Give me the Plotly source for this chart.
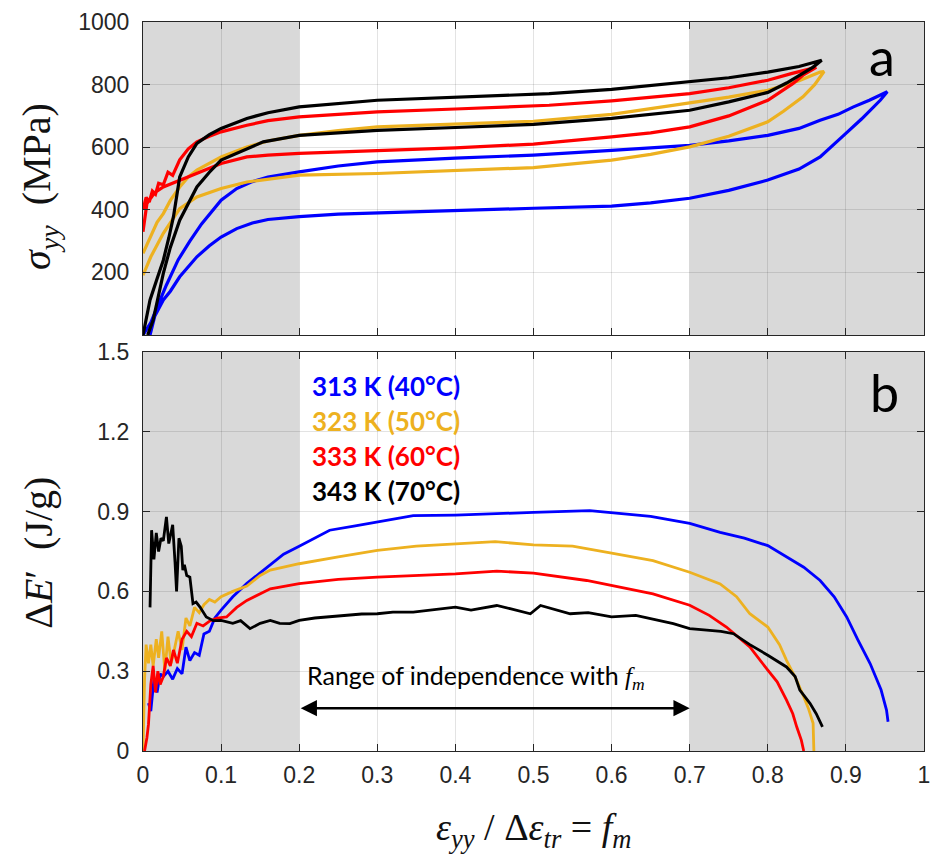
import plotly.graph_objects as go

# ---------------- data: top panel (stress-strain loops) ----------------
x_313_load = [0.0, 0.01, 0.02, 0.03, 0.045, 0.06, 0.075, 0.09, 0.1, 0.12, 0.14, 0.16, 0.18, 0.2, 0.25, 0.3, 0.4, 0.5, 0.6, 0.7, 0.75, 0.8, 0.84, 0.867, 0.89, 0.909, 0.93, 0.945, 0.953]
s_313_load = [0, 40, 100, 160, 240, 300, 355, 400, 431, 468, 490, 505, 514, 521, 540, 553, 565, 575, 590, 606, 620, 638, 660, 686, 705, 728, 750, 768, 777]
x_313_unload = [0.953, 0.944, 0.92, 0.9, 0.88, 0.867, 0.84, 0.8, 0.75, 0.7, 0.65, 0.6, 0.5, 0.4, 0.3, 0.25, 0.2, 0.16, 0.14, 0.12, 0.1, 0.085, 0.069, 0.047, 0.035, 0.026, 0.015, 0.009]
s_313_unload = [777, 750, 690, 644, 600, 569, 530, 495, 462, 437, 422, 412, 405, 398, 392, 386, 378, 369, 358, 340, 313, 285, 250, 186, 140, 112, 60, 0]

x_323_load = [0.0, 0.005, 0.01, 0.018, 0.026, 0.035, 0.047, 0.058, 0.069, 0.085, 0.1, 0.133, 0.16, 0.2, 0.25, 0.3, 0.4, 0.5, 0.6, 0.7, 0.75, 0.8, 0.84, 0.867, 0.872]
s_323_load = [261, 290, 320, 360, 388, 430, 473, 505, 527, 550, 569, 601, 620, 638, 653, 665, 674, 683, 705, 740, 760, 782, 812, 840, 842]
x_323_unload = [0.872, 0.86, 0.845, 0.82, 0.8, 0.75, 0.7, 0.65, 0.6, 0.5, 0.4, 0.3, 0.2, 0.133, 0.1, 0.069, 0.047, 0.026, 0.01, 0.0]
s_323_unload = [842, 800, 761, 715, 681, 635, 601, 577, 559, 535, 525, 516, 511, 489, 468, 441, 404, 325, 250, 191]

x_333_load = [0.0, 0.004, 0.008, 0.012, 0.016, 0.02, 0.026, 0.032, 0.038, 0.047, 0.058, 0.069, 0.085, 0.1, 0.133, 0.16, 0.2, 0.3, 0.4, 0.52, 0.6, 0.7, 0.75, 0.8, 0.83, 0.854, 0.862]
s_333_load = [400, 440, 425, 460, 450, 485, 480, 520, 510, 560, 595, 617, 635, 649, 670, 685, 697, 713, 722, 734, 748, 771, 790, 814, 835, 851, 855]
x_333_unload = [0.862, 0.845, 0.832, 0.8, 0.75, 0.7, 0.65, 0.6, 0.5, 0.4, 0.3, 0.2, 0.16, 0.133, 0.1, 0.085, 0.069, 0.047, 0.026, 0.015, 0.005, 0.0]
s_333_unload = [855, 830, 803, 750, 700, 665, 646, 633, 610, 598, 590, 580, 575, 569, 548, 533, 516, 495, 473, 455, 420, 330]

x_343_load = [0.0, 0.009, 0.018, 0.026, 0.033, 0.039, 0.047, 0.058, 0.069, 0.085, 0.1, 0.133, 0.16, 0.2, 0.3, 0.4, 0.52, 0.6, 0.7, 0.75, 0.8, 0.84, 0.869]
s_343_load = [0, 112, 180, 239, 310, 378, 505, 569, 612, 640, 660, 692, 710, 729, 750, 760, 771, 785, 808, 822, 840, 858, 878]
x_343_unload = [0.869, 0.858, 0.824, 0.8, 0.75, 0.7, 0.6, 0.5, 0.4, 0.3, 0.2, 0.154, 0.1, 0.085, 0.069, 0.058, 0.047, 0.035, 0.026, 0.013, 0.006]
s_343_unload = [878, 856, 805, 775, 745, 718, 692, 673, 663, 654, 638, 617, 559, 520, 473, 420, 367, 280, 197, 48, 0]

# ---------------- data: bottom panel (Delta E') ----------------
x_313_E = [0.007, 0.01, 0.014, 0.018, 0.022, 0.026, 0.032, 0.038, 0.044, 0.05, 0.055, 0.06, 0.066, 0.072, 0.078, 0.085, 0.092, 0.1, 0.115, 0.133, 0.15, 0.163, 0.18, 0.2, 0.22, 0.239, 0.27, 0.3, 0.346, 0.4, 0.45, 0.5, 0.572, 0.6, 0.65, 0.7, 0.739, 0.77, 0.8, 0.846, 0.867, 0.885, 0.901, 0.915, 0.931, 0.945, 0.952, 0.954]
E_313 = [0.18, 0.15, 0.27, 0.22, 0.29, 0.28, 0.30, 0.27, 0.31, 0.29, 0.39, 0.34, 0.37, 0.36, 0.44, 0.45, 0.50, 0.53, 0.58, 0.63, 0.67, 0.70, 0.74, 0.77, 0.80, 0.83, 0.845, 0.86, 0.885, 0.887, 0.893, 0.897, 0.904, 0.897, 0.882, 0.856, 0.822, 0.80, 0.772, 0.691, 0.641, 0.58, 0.504, 0.42, 0.329, 0.23, 0.154, 0.11]

x_323_E = [0.0, 0.002, 0.004, 0.007, 0.01, 0.013, 0.017, 0.02, 0.024, 0.028, 0.032, 0.036, 0.04, 0.045, 0.05, 0.055, 0.06, 0.066, 0.072, 0.078, 0.085, 0.092, 0.1, 0.115, 0.133, 0.15, 0.163, 0.2, 0.25, 0.3, 0.35, 0.4, 0.451, 0.5, 0.55, 0.6, 0.653, 0.7, 0.739, 0.76, 0.777, 0.8, 0.815, 0.824, 0.837, 0.846, 0.852, 0.858, 0.859]
E_323 = [0.0, 0.27, 0.40, 0.33, 0.40, 0.32, 0.42, 0.35, 0.45, 0.30, 0.43, 0.33, 0.38, 0.45, 0.38, 0.50, 0.47, 0.54, 0.52, 0.55, 0.57, 0.56, 0.58, 0.60, 0.62, 0.66, 0.68, 0.704, 0.73, 0.754, 0.77, 0.779, 0.787, 0.775, 0.77, 0.744, 0.716, 0.672, 0.628, 0.58, 0.516, 0.466, 0.40, 0.341, 0.266, 0.204, 0.16, 0.104, 0.0]

x_333_E = [0.002, 0.005, 0.007, 0.01, 0.013, 0.016, 0.019, 0.022, 0.026, 0.03, 0.035, 0.039, 0.044, 0.05, 0.056, 0.062, 0.069, 0.077, 0.086, 0.095, 0.107, 0.12, 0.133, 0.15, 0.163, 0.2, 0.25, 0.3, 0.35, 0.4, 0.453, 0.5, 0.568, 0.6, 0.653, 0.7, 0.725, 0.747, 0.777, 0.8, 0.812, 0.824, 0.832, 0.837, 0.843, 0.846]
E_333 = [0.0, 0.05, 0.10, 0.25, 0.32, 0.22, 0.30, 0.25, 0.28, 0.35, 0.32, 0.38, 0.33, 0.42, 0.45, 0.43, 0.48, 0.47, 0.49, 0.50, 0.504, 0.54, 0.566, 0.59, 0.61, 0.629, 0.645, 0.654, 0.66, 0.666, 0.676, 0.669, 0.641, 0.622, 0.591, 0.548, 0.51, 0.466, 0.391, 0.304, 0.26, 0.191, 0.14, 0.091, 0.04, 0.0]

x_343_E = [0.009, 0.011, 0.014, 0.017, 0.02, 0.023, 0.026, 0.028, 0.03, 0.033, 0.035, 0.038, 0.041, 0.043, 0.046, 0.049, 0.051, 0.053, 0.056, 0.06, 0.064, 0.068, 0.073, 0.081, 0.09, 0.1, 0.115, 0.125, 0.137, 0.15, 0.163, 0.175, 0.188, 0.2, 0.22, 0.239, 0.26, 0.28, 0.3, 0.32, 0.346, 0.37, 0.4, 0.42, 0.453, 0.47, 0.496, 0.509, 0.53, 0.547, 0.57, 0.6, 0.631, 0.66, 0.679, 0.7, 0.721, 0.74, 0.756, 0.777, 0.8, 0.824, 0.835, 0.841, 0.854, 0.862, 0.87]
E_343 = [0.54, 0.83, 0.72, 0.82, 0.75, 0.80, 0.79, 0.84, 0.88, 0.78, 0.81, 0.85, 0.71, 0.60, 0.80, 0.77, 0.68, 0.70, 0.66, 0.654, 0.554, 0.56, 0.541, 0.504, 0.49, 0.491, 0.48, 0.49, 0.46, 0.48, 0.491, 0.48, 0.479, 0.491, 0.50, 0.504, 0.51, 0.515, 0.516, 0.522, 0.522, 0.53, 0.541, 0.53, 0.547, 0.535, 0.516, 0.547, 0.53, 0.516, 0.52, 0.504, 0.51, 0.49, 0.479, 0.46, 0.454, 0.45, 0.441, 0.40, 0.36, 0.316, 0.28, 0.229, 0.179, 0.14, 0.091]

labels = ["313 K (40°C)", "323 K (50°C)", "333 K (60°C)", "343 K (70°C)"]
colors = ["#0000ff", "#edb120", "#ff0000", "#000000"]

x_ticks = [0, 0.1, 0.2, 0.3, 0.4, 0.5, 0.6, 0.7, 0.8, 0.9, 1]
x_ticktext = ["0", "0.1", "0.2", "0.3", "0.4", "0.5", "0.6", "0.7", "0.8", "0.9", "1"]
y1_ticks = [200, 400, 600, 800, 1000]
y2_ticks = [0, 0.3, 0.6, 0.9, 1.2, 1.5]
y2_ticktext = ["0", "0.3", "0.6", "0.9", "1.2", "1.5"]

shade_ranges = [(0.0, 0.2), (0.7, 1.0)]

# ---------------- figure ----------------
fig = go.Figure()

loops = [
    (x_313_load + x_313_unload, s_313_load + s_313_unload),
    (x_323_load + x_323_unload, s_323_load + s_323_unload),
    (x_333_load + x_333_unload, s_333_load + s_333_unload),
    (x_343_load + x_343_unload, s_343_load + s_343_unload),
]
for (xs, ys), c, name in zip(loops, colors, labels):
    fig.add_trace(go.Scatter(x=xs, y=ys, mode="lines", line=dict(color=c, width=3.2),
                             xaxis="x", yaxis="y", name=name, showlegend=False))

energies = [(x_313_E, E_313), (x_323_E, E_323), (x_333_E, E_333), (x_343_E, E_343)]
for (xs, ys), c, name in zip(energies, colors, labels):
    fig.add_trace(go.Scatter(x=xs, y=ys, mode="lines", line=dict(color=c, width=2.8),
                             xaxis="x2", yaxis="y2", name=name, showlegend=False))

shapes = []
for x0, x1 in shade_ranges:
    for xr, yr in (("x", "y"), ("x2", "y2")):
        shapes.append(dict(type="rect", xref=xr, yref=yr, x0=x0, x1=x1,
                           y0=0, y1=1000 if yr == "y" else 1.5,
                           fillcolor="#d9d9d9", line=dict(width=0), layer="below"))

axis_common = dict(showline=True, linecolor="#262626", linewidth=1.2, mirror="ticks",
                   ticks="inside", ticklen=7, tickcolor="#262626", tickwidth=1,
                   showgrid=True, gridcolor="rgba(0,0,0,0.11)", gridwidth=1,
                   zeroline=False, automargin=False,
                   tickfont=dict(family="Liberation Sans, Arial", size=23, color="#262626"))

serif = "Liberation Serif, Times New Roman"
annotations = []
leg_y = [1.372, 1.241, 1.11, 0.979]
for lab, c, yy in zip(labels, colors, leg_y):
    annotations.append(dict(x=0.214, y=yy, xref="x2", yref="y2", text="<b>" + lab + "</b>",
                            showarrow=False, xanchor="left", yanchor="middle",
                            font=dict(family="Lato", size=26, color=c)))
annotations.append(dict(x=0.946, y=890, xref="x", yref="y", text="a", showarrow=False,
                        xanchor="center", yanchor="middle", font=dict(family="Lato", size=52, color="#000")))
annotations.append(dict(x=0.95, y=1.35, xref="x2", yref="y2", text="b", showarrow=False,
                        xanchor="center", yanchor="middle", font=dict(family="Lato", size=52, color="#000")))
annotations.append(dict(x=0.208, y=0.277, xref="x2", yref="y2",
                        text="Range of independence with <span style='font-family:Liberation Serif'><i>f<sub>m</sub></i></span>",
                        showarrow=False, xanchor="left", yanchor="middle",
                        font=dict(family="Lato", size=25, color="#000")))
annotations.append(dict(x=0.7, y=0.161, ax=0.2, ay=0.161, xref="x2", yref="y2", axref="x2", ayref="y2",
                        text="", showarrow=True, arrowhead=2, startarrowhead=2, arrowside="end+start",
                        arrowsize=1.3, arrowwidth=2.5, arrowcolor="#000", startarrowsize=1.3))
# axis titles
annotations.append(dict(x=-0.133, y=0.774, xref="paper", yref="paper", textangle=-90,
                        text="<i>σ<sub>yy</sub></i>  (MPa)", showarrow=False,
                        xanchor="center", yanchor="middle", font=dict(family=serif, size=40, color="#111")))
annotations.append(dict(x=-0.133, y=0.272, xref="paper", yref="paper", textangle=-90,
                        text="Δ<i>E</i>′  (J/g)", showarrow=False,
                        xanchor="center", yanchor="middle", font=dict(family=serif, size=40, color="#111")))
annotations.append(dict(x=0.5, y=-0.108, xref="paper", yref="paper",
                        text="<i>ε<sub>yy</sub></i> / Δ<i>ε<sub>tr</sub></i> = <i>f<sub>m</sub></i>", showarrow=False,
                        xanchor="center", yanchor="middle", font=dict(family=serif, size=38, color="#111")))

fig.update_layout(
    width=932, height=860,
    margin=dict(l=143, r=8, t=22, b=109),
    paper_bgcolor="white", plot_bgcolor="white",
    showlegend=False,
    shapes=shapes, annotations=annotations,
    xaxis=dict(domain=[0, 1], range=[0, 1], anchor="y", tickvals=x_ticks, showticklabels=False, **axis_common),
    yaxis=dict(domain=[0.5706, 1.0], range=[0, 1000], anchor="x", tickvals=y1_ticks,
               ticklabelstandoff=8, **axis_common),
    xaxis2=dict(domain=[0, 1], range=[0, 1], anchor="y2", tickvals=x_ticks, ticktext=x_ticktext,
                ticklabelstandoff=3, **axis_common),
    yaxis2=dict(domain=[0, 0.5473], range=[0, 1.5], anchor="x2", tickvals=y2_ticks, ticktext=y2_ticktext,
                ticklabelstandoff=8, **axis_common),
)

fig.write_html("out.html")
